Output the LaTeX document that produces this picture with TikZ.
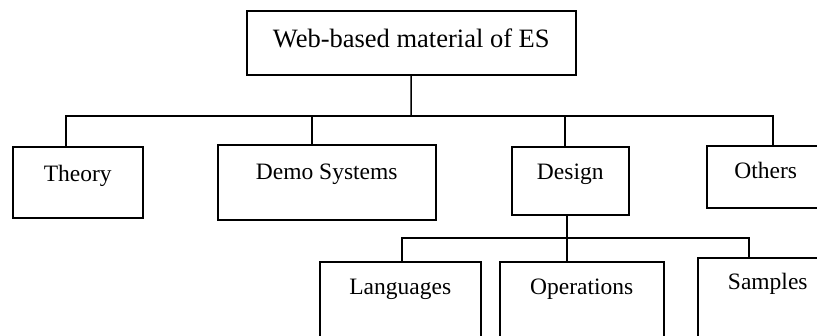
\documentclass[tikz,border=0pt]{standalone}
\usepackage{fontspec}
\setmainfont{Liberation Serif}
\usetikzlibrary{calc}

\begin{document}
\begin{tikzpicture}[x=1pt,y=-1pt,
        box/.style={draw, line width=1.5pt, inner sep=0pt, anchor=north west,
            font=\fontsize{23.5}{28}\selectfont},
        link/.style={line width=1.5pt}]
        \clip (0,0) rectangle (817,335);

        \node[box, minimum width=329pt, text height=37pt, text depth=27pt,
            font=\fontsize{26.5}{32}\selectfont] (web) at (246,10) {Web-based material of ES};

        \node[box, minimum width=130pt, text height=35pt, text depth=36pt] (theory) at (12,146) {Theory};
        \node[box, minimum width=218pt, text height=35pt, text depth=40pt] (demo) at (217,144) {Demo Systems};
        \node[box, minimum width=117pt, text height=33pt, text depth=35pt] (design) at (511,146) {Design};
        \node[box, minimum width=118pt, text height=33pt, text depth=29pt] (others) at (706,145) {Others};

        \node[box, minimum width=161pt, text height=33pt, text depth=60pt] (lang) at (319,261) {Languages};
        \node[box, minimum width=164pt, text height=33pt, text depth=60pt] (oper) at (499,261) {Operations};
        \node[box, minimum width=140pt, text height=32pt, text depth=60pt] (samples) at (697,257) {Samples};

        % first level
        \coordinate (j1) at (411,116);
        \draw[link] (web.south) -- (j1);
        \draw[link] ([xshift=-12pt]theory.north) |- (j1) -| ([xshift=7pt]others.north);
        \draw[link] ([xshift=-15pt]demo.north) -- ([xshift=-15pt]demo.north |- j1);
        \draw[link] ([xshift=-5.5pt]design.north) -- ([xshift=-5.5pt]design.north |- j1);

        % second level
        \coordinate (j2) at (566,238);
        \draw[link] ([xshift=-3.5pt]design.south) -- ([xshift=-15pt]oper.north);
        \draw[link] ([xshift=1.5pt]lang.north) |- (j2) -| ([xshift=-19pt]samples.north);
    \end{tikzpicture}
\end{document}
